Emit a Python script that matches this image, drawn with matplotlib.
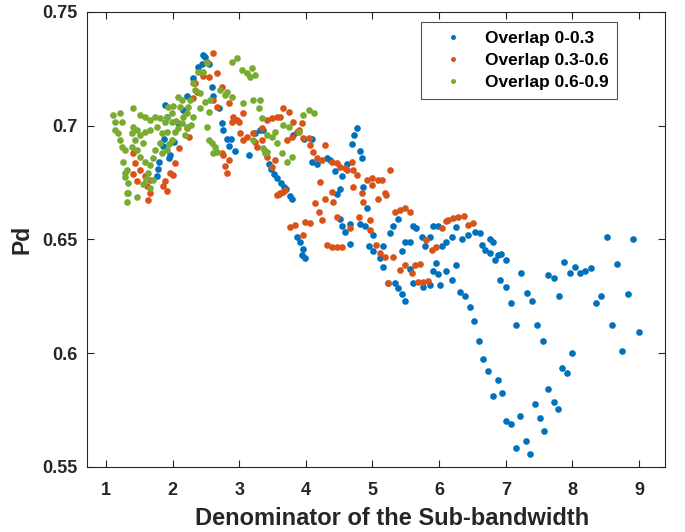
import matplotlib
matplotlib.use("Agg")
import matplotlib.pyplot as plt

plt.rcParams['font.family'] = ['Liberation Sans', 'DejaVu Sans']

# Pd vs denominator of the sub-bandwidth
overlap_low = [
    (1.76, 0.678), (1.78, 0.681), (1.79, 0.684), (1.86, 0.691), (1.87, 0.694),
    (1.89, 0.709), (1.91, 0.704), (1.94, 0.686), (1.96, 0.687), (2.02, 0.693),
    (2.08, 0.701), (2.15, 0.707), (2.22, 0.713), (2.30, 0.721), (2.38, 0.726),
    (2.44, 0.727), (2.46, 0.731), (2.49, 0.730), (2.54, 0.727), (2.59, 0.717),
    (2.61, 0.713), (2.69, 0.708), (2.74, 0.701), (2.76, 0.698), (2.81, 0.694),
    (2.84, 0.691), (2.87, 0.694), (2.94, 0.689), (3.14, 0.687), (3.24, 0.697),
    (3.31, 0.698), (3.36, 0.698), (3.39, 0.689), (3.44, 0.683), (3.48, 0.681),
    (3.52, 0.679), (3.56, 0.677), (3.59, 0.670), (3.62, 0.675), (3.67, 0.673),
    (3.70, 0.672), (3.76, 0.669), (3.79, 0.668), (3.81, 0.696), (3.86, 0.651),
    (3.91, 0.649), (3.94, 0.643), (3.96, 0.646), (3.99, 0.642), (3.97, 0.694),
    (4.09, 0.694), (4.09, 0.684), (4.16, 0.683), (4.31, 0.686), (4.36, 0.685),
    (4.44, 0.680), (4.46, 0.670), (4.51, 0.672), (4.54, 0.678), (4.51, 0.659),
    (4.54, 0.656), (4.59, 0.6535), (4.61, 0.683), (4.66, 0.648), (4.66, 0.657),
    (4.69, 0.692), (4.72, 0.696), (4.76, 0.699), (4.81, 0.689), (4.84, 0.686),
    (4.81, 0.657), (4.86, 0.673), (4.89, 0.656), (4.91, 0.664), (4.94, 0.647),
    (5.01, 0.652), (5.01, 0.645), (5.11, 0.642), (5.16, 0.647), (5.16, 0.638),
    (5.24, 0.631), (5.26, 0.653), (5.31, 0.656), (5.34, 0.631), (5.39, 0.659),
    (5.39, 0.6285), (5.44, 0.645), (5.44, 0.626), (5.49, 0.649), (5.49, 0.623),
    (5.56, 0.649), (5.56, 0.637), (5.61, 0.656), (5.61, 0.631), (5.66, 0.655),
    (5.74, 0.651), (5.76, 0.629), (5.79, 0.647), (5.86, 0.651), (5.86, 0.630),
    (5.91, 0.656), (5.91, 0.636), (5.96, 0.6395), (5.99, 0.656), (5.99, 0.635),
    (6.01, 0.630), (6.04, 0.647), (6.11, 0.649), (6.11, 0.636), (6.19, 0.651),
    (6.19, 0.632), (6.26, 0.6556), (6.26, 0.639), (6.31, 0.627), (6.34, 0.650),
    (6.39, 0.625), (6.44, 0.652), (6.47, 0.6205), (6.54, 0.6534), (6.61, 0.6527),
    (6.64, 0.6476), (6.525, 0.614), (6.595, 0.6054), (6.66, 0.5975), (6.685, 0.6453),
    (6.735, 0.5921), (6.76, 0.6503), (6.76, 0.6442), (6.81, 0.6488), (6.81, 0.5811),
    (6.835, 0.6412), (6.88, 0.5883), (6.885, 0.643), (6.91, 0.6322), (6.935, 0.6434),
    (6.945, 0.5826), (7.0, 0.6409), (7.0, 0.6291), (7.01, 0.570), (7.075, 0.6219),
    (7.085, 0.5691), (7.15, 0.6126), (7.16, 0.5582), (7.22, 0.5724), (7.235, 0.6354),
    (7.30, 0.5613), (7.32, 0.6266), (7.36, 0.5558), (7.40, 0.6228), (7.435, 0.5779),
    (7.47, 0.6126), (7.51, 0.5716), (7.56, 0.6054), (7.575, 0.5659), (7.635, 0.6346),
    (7.635, 0.5842), (7.72, 0.633), (7.72, 0.5787), (7.79, 0.5754), (7.80, 0.6251),
    (7.85, 0.5937), (7.875, 0.640), (7.925, 0.5912), (7.96, 0.6354), (8.0, 0.600),
    (8.035, 0.6377), (8.12, 0.6354), (8.195, 0.6361), (8.285, 0.6376), (8.35, 0.6219),
    (8.435, 0.6251), (8.515, 0.6512), (8.595, 0.6126), (8.675, 0.6393), (8.75, 0.6009),
    (8.835, 0.6259), (8.915, 0.6503), (8.995, 0.6094),
]

overlap_mid = [
    (1.41, 0.688), (1.435, 0.6835), (1.41, 0.679), (1.46, 0.6755), (1.51, 0.6806),
    (1.585, 0.6777), (1.61, 0.6733), (1.635, 0.6674), (1.66, 0.6762), (1.66, 0.6703),
    (1.86, 0.6733), (1.885, 0.6755), (1.91, 0.6711), (1.96, 0.6791), (2.01, 0.6784),
    (2.035, 0.6835), (2.10, 0.690), (2.21, 0.6989), (2.24, 0.6952), (2.30, 0.712),
    (2.335, 0.7187), (2.36, 0.715), (2.45, 0.722), (2.51, 0.7282), (2.54, 0.7216),
    (2.61, 0.7319), (2.66, 0.7231), (2.61, 0.7113), (2.66, 0.7084), (2.74, 0.7172),
    (2.74, 0.6879), (2.76, 0.687), (2.79, 0.6821), (2.81, 0.6791), (2.84, 0.685),
    (2.84, 0.7099), (2.89, 0.7018), (2.91, 0.704), (2.96, 0.7025), (2.99, 0.7018),
    (3.01, 0.6967), (3.06, 0.7055), (3.06, 0.6937), (3.11, 0.6952), (3.21, 0.6967),
    (3.24, 0.693), (3.26, 0.6908), (3.34, 0.6938), (3.34, 0.6989), (3.41, 0.7026),
    (3.41, 0.6864), (3.49, 0.7033), (3.49, 0.682), (3.54, 0.6849), (3.56, 0.704),
    (3.61, 0.704), (3.61, 0.6703), (3.66, 0.7077), (3.66, 0.671), (3.69, 0.6718),
    (3.56, 0.6696), (3.74, 0.7062), (3.71, 0.6937), (3.79, 0.6952), (3.81, 0.7018),
    (3.86, 0.6974), (3.89, 0.6981), (3.76, 0.6557), (3.84, 0.6564), (3.94, 0.701),
    (3.96, 0.6945), (3.99, 0.6579), (3.96, 0.652), (4.04, 0.6945), (4.06, 0.6915),
    (4.06, 0.6571), (4.11, 0.6886), (4.14, 0.6659), (4.16, 0.6857), (4.19, 0.6622),
    (4.21, 0.6754), (4.24, 0.685), (4.24, 0.6586), (4.29, 0.6915), (4.29, 0.668),
    (4.31, 0.6476), (4.39, 0.6842), (4.39, 0.671), (4.39, 0.6468), (4.41, 0.6666),
    (4.46, 0.6835), (4.46, 0.660), (4.46, 0.6468), (4.51, 0.682), (4.54, 0.6468),
    (4.59, 0.6813), (4.61, 0.6806), (4.66, 0.6549), (4.69, 0.6842), (4.71, 0.6806),
    (4.71, 0.6732), (4.76, 0.6783), (4.79, 0.660), (4.84, 0.6703), (4.86, 0.6666),
    (4.91, 0.6762), (4.96, 0.6586), (4.96, 0.6542), (4.99, 0.674), (5.00, 0.677),
    (5.06, 0.6476), (5.09, 0.6762), (5.09, 0.668), (5.11, 0.6439), (5.14, 0.676),
    (5.19, 0.6703), (5.19, 0.6425), (5.21, 0.6696), (5.24, 0.6307), (5.27, 0.6806),
    (5.31, 0.6424), (5.34, 0.6622), (5.41, 0.6629), (5.41, 0.6366), (5.49, 0.6637),
    (5.49, 0.6388), (5.56, 0.6622), (5.59, 0.6351), (5.64, 0.6388), (5.69, 0.6314),
    (5.71, 0.6392), (5.76, 0.6314), (5.81, 0.6498), (5.84, 0.6319), (5.89, 0.6454),
    (5.96, 0.6468), (6.04, 0.6549), (6.11, 0.6583), (6.14, 0.6586), (6.21, 0.6593),
    (6.29, 0.660), (6.37, 0.6603), (6.44, 0.6563), (6.51, 0.6571),
]

overlap_high = [
    (1.11, 0.7047), (1.135, 0.7018), (1.21, 0.7055), (1.235, 0.7018), (1.135, 0.6981),
    (1.185, 0.6967), (1.21, 0.6937), (1.235, 0.6908), (1.285, 0.6893), (1.26, 0.6842),
    (1.285, 0.6791), (1.31, 0.6806), (1.285, 0.6776), (1.335, 0.6747), (1.31, 0.6703),
    (1.31, 0.6666), (1.335, 0.6703), (1.41, 0.7077), (1.41, 0.6996), (1.46, 0.6981),
    (1.385, 0.6967), (1.435, 0.6937), (1.385, 0.6908), (1.46, 0.6688), (1.46, 0.6893),
    (1.51, 0.7047), (1.585, 0.704), (1.66, 0.7025), (1.735, 0.704), (1.81, 0.7033),
    (1.91, 0.704), (1.985, 0.7055), (1.51, 0.696), (1.585, 0.6974), (1.66, 0.6981),
    (1.56, 0.6923), (1.51, 0.6864), (1.585, 0.6842), (1.66, 0.6828), (1.635, 0.6791),
    (1.71, 0.6762), (1.66, 0.6725), (1.60, 0.6765), (1.55, 0.6745), (1.70, 0.686),
    (1.735, 0.6893), (1.81, 0.6923), (1.835, 0.6967), (1.91, 0.6974), (1.835, 0.6879),
    (1.91, 0.6893), (1.95, 0.692), (1.985, 0.6937), (2.035, 0.6974), (2.085, 0.6989),
    (2.135, 0.7011), (2.16, 0.704), (2.21, 0.7055), (2.235, 0.7084), (2.26, 0.7113),
    (2.335, 0.7157), (2.31, 0.7186), (2.385, 0.7238), (2.46, 0.7238), (2.51, 0.7274),
    (2.135, 0.7113), (2.11, 0.7084), (2.21, 0.6996), (2.185, 0.696), (1.985, 0.7018),
    (1.935, 0.7084), (2.00, 0.7085), (2.05, 0.702), (2.085, 0.7128), (1.76, 0.6995),
    (1.88, 0.7015), (2.28, 0.7005), (2.41, 0.7142), (2.41, 0.7077), (2.49, 0.7106),
    (2.54, 0.7062), (2.31, 0.704), (2.51, 0.6996), (2.54, 0.6938), (2.59, 0.6923),
    (2.61, 0.6879), (2.64, 0.6908), (2.66, 0.6886), (2.56, 0.7113), (2.71, 0.7157),
    (2.79, 0.7135), (2.81, 0.715), (2.89, 0.7128), (2.89, 0.7282), (2.96, 0.7297),
    (3.04, 0.7245), (3.11, 0.7231), (3.19, 0.7252), (3.16, 0.7216), (3.24, 0.7223),
    (3.06, 0.7099), (3.21, 0.7113), (3.31, 0.7113), (3.29, 0.7077), (3.21, 0.6938),
    (3.34, 0.7033), (3.39, 0.6879), (3.41, 0.696), (3.49, 0.695), (3.54, 0.6974),
    (3.56, 0.6923), (3.36, 0.6901), (3.41, 0.6886), (3.64, 0.6879), (3.71, 0.6842),
    (3.79, 0.6864), (3.66, 0.7004), (3.74, 0.6996), (3.89, 0.6974), (3.96, 0.7047),
    (4.05, 0.707), (4.12, 0.7055),
]

series = [
    ("Overlap 0-0.3", overlap_low, "#0072BD"),
    ("Overlap 0.3-0.6", overlap_mid, "#D95319"),
    ("Overlap 0.6-0.9", overlap_high, "#77AC30"),
]

x_ticks = [1, 2, 3, 4, 5, 6, 7, 8, 9]
y_ticks = [0.55, 0.6, 0.65, 0.7, 0.75]
y_tick_labels = ["0.55", "0.6", "0.65", "0.7", "0.75"]

fig = plt.figure(figsize=(6.85, 5.32), dpi=100)
ax = fig.add_axes([0.127, 0.1222, 0.8438, 0.8553])

for name, pts, col in series:
    xs = [p[0] for p in pts]
    ys = [p[1] for p in pts]
    ax.plot(xs, ys, 'o', ms=4.8, mew=0, color=col, label=name)

ax.set_xlim(0.715, 9.39)
ax.set_ylim(0.55, 0.75)
ax.set_xticks(x_ticks)
ax.set_yticks(y_ticks)
ax.set_yticklabels(y_tick_labels)

axis_col = '#262626'
for s in ax.spines.values():
    s.set_color(axis_col)
    s.set_linewidth(0.8)
ax.tick_params(direction='in', length=5, width=0.8, colors=axis_col,
               top=True, right=True, labelsize=13)
ax.tick_params(axis='x', pad=11)
ax.tick_params(axis='y', pad=7)
for lab in ax.get_xticklabels() + ax.get_yticklabels():
    lab.set_fontweight('bold')
    lab.set_color('#262626')

ax.set_xlabel("Denominator of the Sub-bandwidth", fontsize=17, fontweight='bold',
              color='#262626')
ax.xaxis.set_label_coords(0.528, -0.088)
ax.set_ylabel("Pd", fontsize=16.5, fontweight='bold', color='#262626', labelpad=6)

leg = ax.legend(loc='upper right', bbox_to_anchor=(0.917, 0.978), borderaxespad=0,
                fancybox=False, markerscale=0.75,
                prop={'weight': 'bold', 'size': 12.5},
                handletextpad=0.45, borderpad=0.5, labelspacing=0.4,
                handlelength=2.7)
leg.get_frame().set_edgecolor(axis_col)
leg.get_frame().set_linewidth(0.8)

fig.savefig("out.png", dpi=100)
